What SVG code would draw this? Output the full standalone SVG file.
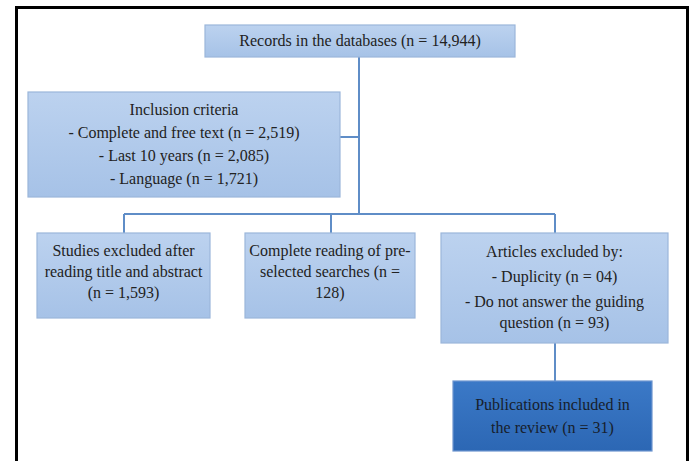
<svg xmlns="http://www.w3.org/2000/svg" width="692" height="461" viewBox="0 0 692 461">
<defs>
<linearGradient id="lg" x1="0" y1="0" x2="0" y2="1">
<stop offset="0" stop-color="#bcd2ef"/>
<stop offset="1" stop-color="#a6c2e7"/>
</linearGradient>
<linearGradient id="dg" x1="0" y1="0" x2="0" y2="1">
<stop offset="0" stop-color="#3b79c7"/>
<stop offset="1" stop-color="#2c67b4"/>
</linearGradient>
<style>
.box{fill:url(#lg);stroke:#9bb6da;stroke-width:1.2}
.dbox{fill:url(#dg);stroke:#6d95cf;stroke-width:1.2}
text{font-family:'Liberation Serif','DejaVu Serif',serif;font-size:16px;fill:#222;text-anchor:middle}
.dt{fill:#17202c}
.c{stroke:#5f8dc7;stroke-width:2;fill:none}
</style>
</defs>
<rect x="0" y="0" width="692" height="461" fill="#fff"/>
<path d="M16.5 470 V7.5 H687.5 V470" fill="none" stroke="#000" stroke-width="3"/>
<g id="connectors">
<path class="c" d="M359 57 V214"/>
<path class="c" d="M340 137 H359"/>
<path class="c" d="M124 214 H555"/>
<path class="c" d="M124 214 V233"/>
<path class="c" d="M331 214 V233"/>
<path class="c" d="M555 214 V233"/>
<path class="c" d="M555 343 V381"/>
</g>
<g id="records" font-family="Liberation Serif, serif">
<rect class="box" x="205" y="25" width="310" height="32"/>
<text x="360" y="46">Records in the databases (n = 14,944)</text>
</g>
<g id="inclusion" font-family="Liberation Serif, serif">
<rect class="box" x="28" y="92" width="312" height="105"/>
<text x="184" y="115">Inclusion criteria</text>
<text x="184" y="138">- Complete and free text (n = 2,519)</text>
<text x="184" y="161">- Last 10 years (n = 2,085)</text>
<text x="184" y="184">- Language (n = 1,721)</text>
</g>
<g id="excluded-title" font-family="Liberation Serif, serif">
<rect class="box" x="37" y="233" width="173" height="85"/>
<text x="123.5" y="256">Studies excluded after</text>
<text x="123.5" y="277">reading title and abstract</text>
<text x="123.5" y="298">(n = 1,593)</text>
</g>
<g id="complete-reading" font-family="Liberation Serif, serif">
<rect class="box" x="245" y="233" width="170" height="85"/>
<text x="330" y="256">Complete reading of pre-</text>
<text x="330" y="277">selected searches (n =</text>
<text x="330" y="298">128)</text>
</g>
<g id="articles-excluded" font-family="Liberation Serif, serif">
<rect class="box" x="441" y="233" width="227" height="110"/>
<text x="554.5" y="257">Articles excluded by:</text>
<text x="554.5" y="282">- Duplicity (n = 04)</text>
<text x="554.5" y="307">- Do not answer the guiding</text>
<text x="554.5" y="328">question (n = 93)</text>
</g>
<g id="publications" font-family="Liberation Serif, serif">
<rect class="dbox" x="453" y="381" width="199" height="70"/>
<text class="dt" x="552.5" y="410">Publications included in</text>
<text class="dt" x="552.5" y="433">the review (n = 31)</text>
</g>
</svg>
